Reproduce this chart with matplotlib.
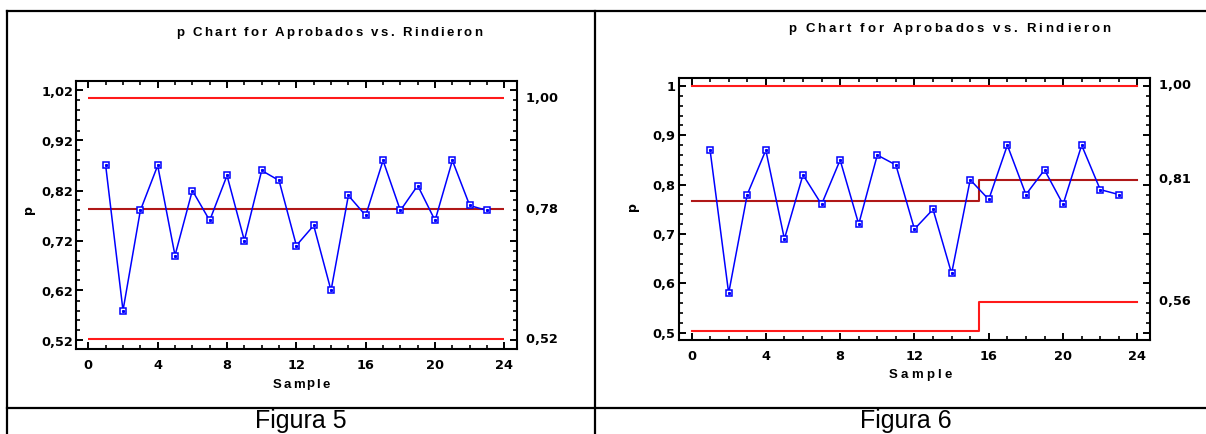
import numpy as np
import matplotlib
matplotlib.use("Agg")
import matplotlib.pyplot as plt
from matplotlib.lines import Line2D
from matplotlib.ticker import FixedLocator, MultipleLocator, FuncFormatter
from matplotlib.font_manager import FontProperties, findfont
from matplotlib.ft2font import FT2Font

# ---------------- data ----------------
samples = list(range(1, 24))
p_values = [0.87, 0.58, 0.78, 0.87, 0.69, 0.82, 0.76, 0.85, 0.72, 0.86, 0.84, 0.71,
            0.75, 0.62, 0.81, 0.77, 0.88, 0.78, 0.83, 0.76, 0.88, 0.79, 0.78]

# Figura 5: single control limits
fig5_ucl = 1.004
fig5_cl = 0.782
fig5_lcl = 0.522
fig5_yticks = [0.52, 0.62, 0.72, 0.82, 0.92, 1.02]

# Figura 6: limits change at sample 15.5
fig6_breaks = [0, 15.5, 24]
fig6_ucl = [1.00, 1.00]
fig6_cl = [0.767, 0.81]
fig6_lcl = [0.503, 0.563]
fig6_yticks = [0.5, 0.6, 0.7, 0.8, 0.9, 1.0]

xticks = [0, 4, 8, 12, 16, 20, 24]
title_text = "p Chart for Aprobados vs. Rindieron"
xlabel_text = "Sample"
ylabel_text = "p"
captions = ["Figura 5", "Figura 6"]

# ---------------- figure ----------------
W, H = 1206, 434
DPI = 100
fig = plt.figure(figsize=(W / DPI, H / DPI), dpi=DPI)
fig.patch.set_facecolor("white")

def fx(x):
    return x / W

def fy(y):
    return 1 - y / H

# table borders
border_kw = dict(color="black", lw=1.6, transform=fig.transFigure, solid_capstyle="projecting")
fig.add_artist(Line2D([fx(7), fx(1206)], [fy(11), fy(11)], **border_kw))
fig.add_artist(Line2D([fx(7), fx(1206)], [fy(408), fy(408)], **border_kw))
fig.add_artist(Line2D([fx(7), fx(7)], [fy(11), fy(434)], **border_kw))
fig.add_artist(Line2D([fx(595), fx(595)], [fy(11), fy(434)], **border_kw))

TICKFONT = "DejaVu Sans"
TITLEFONT = "Liberation Sans"

def spaced_text(cx, base_y, s, size, target_w, family=TITLEFONT, weight="bold"):
    prop = FontProperties(family=family, weight=weight, size=size)
    font = FT2Font(findfont(prop))
    font.set_size(size, DPI)
    advs = [font.load_char(ord(c)).linearHoriAdvance / 65536.0 for c in s]
    natural = sum(advs)
    gap = (target_w - natural) / (len(s) - 1)
    x = cx - target_w / 2
    for c, a in zip(s, advs):
        if c != " ":
            fig.text(fx(x), fy(base_y), c, fontproperties=prop, ha="left", va="baseline")
        x += a + gap

def comma_fmt(decimals):
    def f(v, pos):
        if decimals is None:
            s = ("%g" % round(v, 2))
        else:
            s = f"{v:.{decimals}f}"
        return s.replace(".", ",")
    return FuncFormatter(f)

def style_axes(ax, yticks, yfmt, xpad):
    for sp in ax.spines.values():
        sp.set_linewidth(1.5)
        sp.set_color("black")
    ax.xaxis.set_major_locator(FixedLocator(xticks))
    ax.xaxis.set_minor_locator(MultipleLocator(1))
    ax.yaxis.set_major_locator(FixedLocator(yticks))
    ax.yaxis.set_minor_locator(MultipleLocator(0.02))
    ax.yaxis.set_major_formatter(yfmt)
    ax.tick_params(which="both", direction="in", top=True, right=True, color="black")
    ax.tick_params(which="major", length=5, width=1.4)
    ax.tick_params(which="minor", length=3, width=1.2)
    ax.tick_params(axis="y", which="major", pad=2)
    ax.tick_params(axis="x", which="major", pad=xpad)
    for lab in ax.get_xticklabels() + ax.get_yticklabels():
        lab.set_fontfamily(TICKFONT)
        lab.set_fontweight("bold")
        lab.set_fontsize(9.3)

line_kw = dict(color="#0000ff", lw=1.1, marker="s", ms=4.6, mfc="white",
               mec="#0000ff", mew=1.1, zorder=4)
inner_kw = dict(ls="none", marker="s", ms=1.2, color="#0000ff", zorder=5)

UCL_C = "#ff1a1a"
CL_C = "#b01818"

# ---------------- Figura 5 ----------------
ax1 = fig.add_axes([fx(76.2), fy(349), fx(517.4) - fx(76.2), fy(81) - fy(349)])
ax1.set_xlim(-0.7, 24.75)
ax1.set_ylim(0.503, 1.039)
ax1.hlines([fig5_ucl, fig5_lcl], 0, 24, color=UCL_C, lw=1.5, zorder=2)
ax1.hlines([fig5_cl], 0, 24, color=CL_C, lw=1.5, zorder=2)
ax1.plot(samples, p_values, **line_kw)
ax1.plot(samples, p_values, **inner_kw)
style_axes(ax1, fig5_yticks, comma_fmt(2), 7)
for v in [fig5_ucl, fig5_cl, fig5_lcl]:
    ax1.text(1.0, v, "  " + f"{v:.2f}".replace(".", ","), transform=ax1.get_yaxis_transform(),
             ha="left", va="center", fontfamily=TICKFONT, fontweight="bold", fontsize=9.3)

spaced_text(329, 36, title_text, 9.5, 306)
spaced_text(301, 387.5, xlabel_text, 9.5, 57)
fig.text(fx(29), fy(210), ylabel_text, rotation=90, ha="center", va="center",
         fontfamily=TICKFONT, fontweight="bold", fontsize=9)
fig.text(fx(301), fy(428), captions[0], ha="center", va="baseline",
         fontfamily="Liberation Sans", fontsize=18)

# ---------------- Figura 6 ----------------
ax2 = fig.add_axes([fx(678.5), fy(340.3), fx(1150.4) - fx(678.5), fy(78.3) - fy(340.3)])
ax2.set_xlim(-0.7, 24.7)
ax2.set_ylim(0.4846, 1.0156)
ax2.step(fig6_breaks, fig6_ucl + fig6_ucl[-1:], where="post", color=UCL_C, lw=1.5, zorder=2)
ax2.step(fig6_breaks, fig6_lcl + fig6_lcl[-1:], where="post", color=UCL_C, lw=1.5, zorder=2)
ax2.step(fig6_breaks, fig6_cl + fig6_cl[-1:], where="post", color=CL_C, lw=1.5, zorder=2)
ax2.plot(samples, p_values, **line_kw)
ax2.plot(samples, p_values, **inner_kw)
style_axes(ax2, fig6_yticks, comma_fmt(None), 7)
for v in [fig6_ucl[-1], fig6_cl[-1], fig6_lcl[-1]]:
    ax2.text(1.0, v, "  " + f"{v:.2f}".replace(".", ","), transform=ax2.get_yaxis_transform(),
             ha="left", va="center", fontfamily=TICKFONT, fontweight="bold", fontsize=9.3)

spaced_text(949, 31.7, title_text, 9.5, 322)
spaced_text(920, 378.3, xlabel_text, 9.5, 63)
fig.text(fx(633), fy(207), ylabel_text, rotation=90, ha="center", va="center",
         fontfamily=TICKFONT, fontweight="bold", fontsize=9)
fig.text(fx(906), fy(428), captions[1], ha="center", va="baseline",
         fontfamily="Liberation Sans", fontsize=18)

fig.savefig("out.png", dpi=DPI, facecolor="white")
